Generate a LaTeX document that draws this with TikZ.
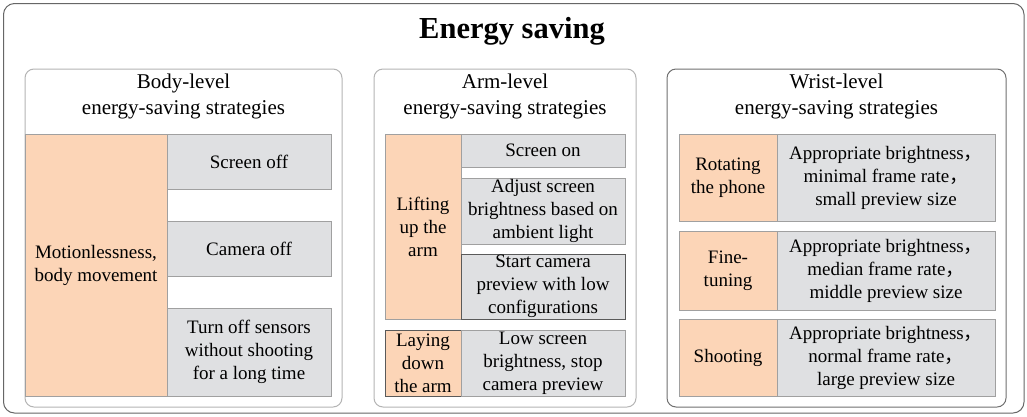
\documentclass[tikz,border=0pt]{standalone}
\usepackage{fontspec}
\setmainfont{Liberation Serif}
\newfontfamily\cjk{Noto Sans CJK SC}
\definecolor{peach}{HTML}{FCD5B7}
\definecolor{cellgray}{HTML}{DFE0E2}
\definecolor{edgelight}{HTML}{A0A0A0}
\definecolor{edgedark}{HTML}{5A5A5A}
\definecolor{panellight}{HTML}{B4B4B4}
\definecolor{panelmid}{HTML}{707070}
\definecolor{outeredge}{HTML}{666666}
\newcommand{\cbox}[7]{\node[#6, minimum width={(#4-#2)*1pt}, minimum height={(#5-#3)*1pt}] (#1) at ({(#2+#4)/2},{(#3+#5)/2}) {#7};}
\newcommand{\fwc}{{\cjk ，}}
\begin{document}
\begin{tikzpicture}[x=1pt,y=-1pt,
  cell/.style={rectangle, inner sep=0pt, outer sep=0pt, align=center, line width=1pt, font=\fontsize{19}{23}\selectfont},
  orangecell/.style={cell, fill=peach, draw=edgelight},
  graycell/.style={cell, fill=cellgray, draw=edgelight},
  darkedge/.style={draw=edgedark},
  panel/.style={rectangle, rounded corners=9pt, draw=panellight, line width=1pt, fill=white, inner sep=0pt},
  heading/.style={align=center, inner sep=0pt, font=\fontsize{21}{26}\selectfont},
]
\useasboundingbox (0,0) rectangle (1027,416);
\cbox{outer}{3.5}{3.5}{1024}{413}{panel, draw=outeredge, rounded corners=11pt}{}
\node[font=\fontsize{30.5}{34}\selectfont\bfseries, inner sep=0pt] (title) at (512,31) {Energy saving};

% panel 1
\cbox{p1}{25}{69}{342}{407}{panel}{}
\node[heading] (h1) at (183.5,96) {Body-level\\energy-saving strategies};
\cbox{b0}{25}{134}{167}{396}{orangecell}{Motionlessness,\\body movement}
\cbox{b1}{167}{134}{331}{189}{graycell}{Screen off}
\cbox{b2}{167}{221}{331}{276}{graycell}{Camera off}
\cbox{b3}{167}{308}{331}{396}{graycell}{Turn off sensors\\without shooting\\for a long time}

% panel 2
\cbox{p2}{374}{69}{636}{407}{panel}{}
\node[heading] (h2) at (505,96) {Arm-level\\energy-saving strategies};
\cbox{a0}{385}{134}{461}{319}{orangecell}{Lifting\\up the\\arm}
\cbox{a1}{461}{134}{625}{167}{graycell}{Screen on}
\cbox{a2}{461}{178}{625}{244}{graycell}{Adjust screen\\brightness based on\\ambient light}
\cbox{a3}{461}{254}{625}{319}{graycell, darkedge}{Start camera\\preview with low\\configurations}
\cbox{a4}{385}{330}{461}{396}{orangecell, darkedge}{Laying\\down\\the arm}
\cbox{a5}{461}{330}{625}{396}{graycell}{Low screen\\brightness, stop\\camera preview}

% panel 3
\cbox{p3}{667}{69}{1006}{407}{panel, draw=panelmid}{}
\node[heading] (h3) at (836.5,96) {Wrist-level\\energy-saving strategies};
\cbox{w0}{679}{134}{777}{221}{orangecell}{Rotating\\the phone}
\cbox{w1}{777}{134}{995}{221}{graycell}{Appropriate brightness\fwc\\minimal frame rate\fwc\\small preview size}
\cbox{w2}{679}{231}{777}{310}{orangecell}{Fine-\\tuning}
\cbox{w3}{777}{231}{995}{310}{graycell}{Appropriate brightness\fwc\\median frame rate\fwc\\middle preview size}
\cbox{w4}{679}{319}{777}{396}{orangecell}{Shooting}
\cbox{w5}{777}{319}{995}{396}{graycell}{Appropriate brightness\fwc\\normal frame rate\fwc\\large preview size}
\end{tikzpicture}
\end{document}
